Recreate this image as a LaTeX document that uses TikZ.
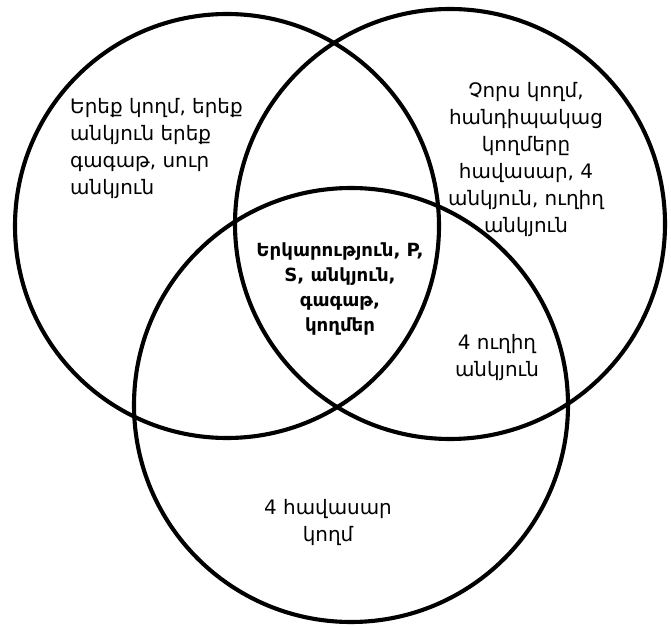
\documentclass[tikz,border=0pt]{standalone}
\usepackage{fontspec}
\setmainfont{DejaVu Sans}
\usepackage{tikz}
\usetikzlibrary{positioning}
\definecolor{inkBlack}{HTML}{000000}

\tikzset{
  vennring/.style={draw=inkBlack, line width=3.5pt},
  regiontext/.style={inner sep=0pt, font=\fontsize{17}{23}\selectfont, text=inkBlack},
  coretext/.style={inner sep=0pt, font=\bfseries\fontsize{15.5}{21.5}\selectfont, text=inkBlack, align=center}
}

\begin{document}
\begin{tikzpicture}[x=0.03cm, y=-0.03cm]
        \useasboundingbox (0,0) rectangle (671,627);
        % the three sets
        \coordinate (triangleC) at (227,226);
        \coordinate (rectC) at (450,224);
        \coordinate (rhombC) at (351,405);
        \draw[vennring] (triangleC) circle (212);
        \draw[vennring] (rectC) circle (215);
        \draw[vennring] (rhombC) circle (217);
        % region labels
        \node[regiontext, anchor=north west, align=left] (triangleTxt) at (70,98) {%
          Երեք կողմ, երեք\\անկյուն երեք\\գագաթ, սուր\\անկյուն};
        \node[regiontext, anchor=north, align=center] (rectTxt) at (526,82) {%
          Չորս կողմ,\\հանդիպակաց\\կողմերը\\հավասար, 4\\անկյուն, ուղիղ\\անկյուն};
        \node[coretext, anchor=north] (coreTxt) at (340,242) {%
          Երկարություն, P,\\S, անկյուն,\\գագաթ,\\կողմեր};
        \node[regiontext, anchor=north, align=center] (squareTxt) at (497,334) {%
          4 ուղիղ\\անկյուն};
        \node[regiontext, anchor=north, align=center] (rhombTxt) at (328,499) {%
          4 հավասար\\կողմ};
      \end{tikzpicture}
\end{document}
